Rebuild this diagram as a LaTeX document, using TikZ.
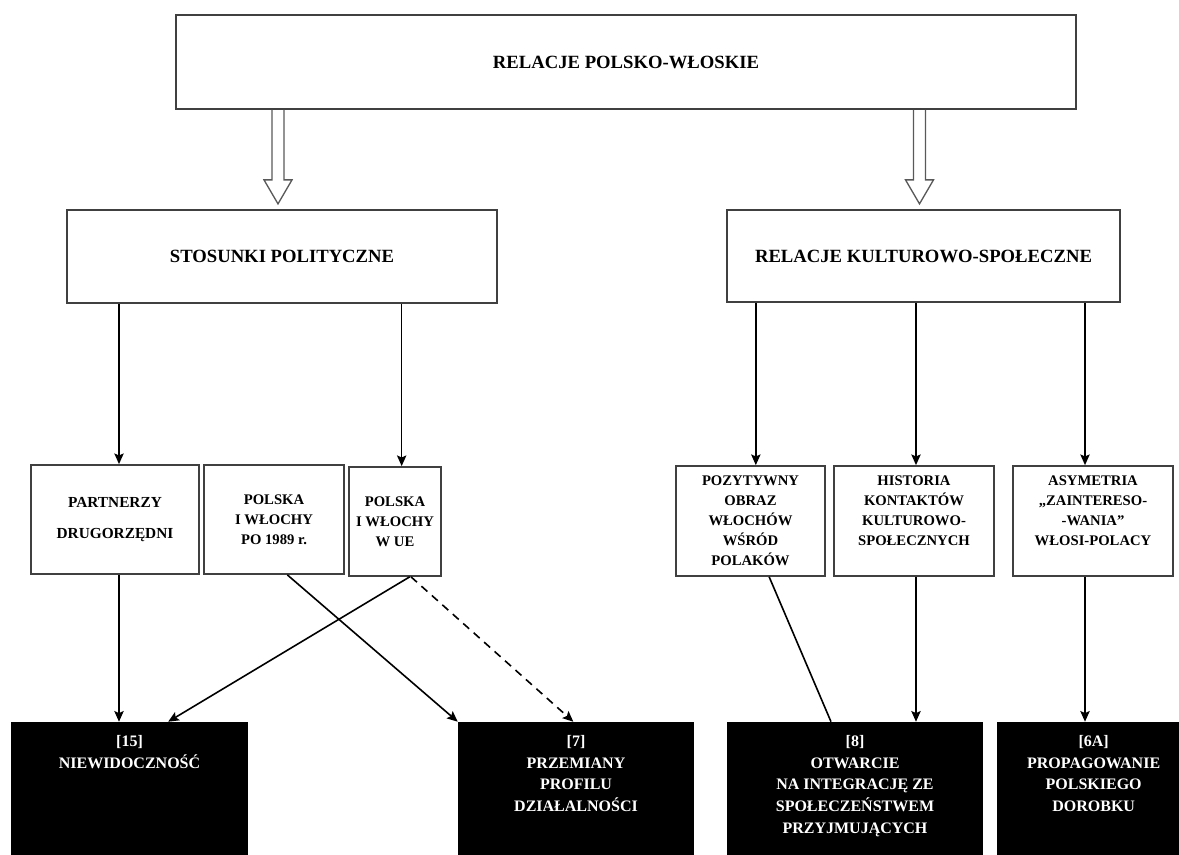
\documentclass[tikz,border=0pt]{standalone}
\usepackage{fontspec}
\setmainfont{Liberation Serif}
\usetikzlibrary{arrows.meta}

\tikzset{
  whitebox/.style={draw=black!75, line width=1.3pt, fill=white, align=center,
    inner sep=2pt, font=\bfseries\fontsize{11}{15}\selectfont},
  headbox/.style={whitebox, font=\bfseries\fontsize{14}{17}\selectfont},
  blackbox/.style={fill=black, draw=none},
  blacktext/.style={text=white, align=center, anchor=north, inner sep=0pt,
    font=\bfseries\fontsize{12}{16.3}\selectfont},
  arr/.style={line width=1.2pt, -{Stealth[length=8pt,width=7pt,inset=1.5pt]}},
  link/.style={line width=1.2pt},
  hollow/.style={draw=black!65, line width=1pt},
}

\begin{document}
\begin{tikzpicture}[x=0.75pt,y=-0.75pt]
\useasboundingbox (0,0) rectangle (1179,855);

% top level
\node[headbox, minimum width=675pt, minimum height=70.5pt] (top) at (626,62) {RELACJE POLSKO-WŁOSKIE};
\node[headbox, minimum width=322.5pt, minimum height=69.75pt] (polit) at (282,256.5) {STOSUNKI POLITYCZNE};
\node[headbox, minimum width=294.75pt, minimum height=69pt] (kult) at (923.5,256) {RELACJE KULTUROWO-SPOŁECZNE};

\draw[hollow] ([xshift=-7.5pt]polit.north |- top.south) -- ++(0,70) -- ++(-8,0) -- ++(14,24) -- ++(14,-24) -- ++(-8,0) -- ++(0,-70);
\draw[hollow] ([xshift=-7.5pt]kult.north |- top.south) -- ++(0,70) -- ++(-8,0) -- ++(14,24) -- ++(14,-24) -- ++(-8,0) -- ++(0,-70);

% middle row
\node[whitebox, minimum width=126pt, minimum height=81.75pt, font=\bfseries\fontsize{11.5}{15}\selectfont] (partn) at (115,519.5) {PARTNERZY\\[8pt]DRUGORZĘDNI};
\node[whitebox, minimum width=105pt, minimum height=81.75pt] (po89) at (274,519.5) {POLSKA\\I WŁOCHY\\PO 1989 r.};
\node[whitebox, minimum width=69pt, minimum height=81.75pt] (ue) at (395,521.5) {POLSKA\\I WŁOCHY\\W UE};
\node[whitebox, minimum width=111.75pt, minimum height=82.5pt] (pozyt) at (750.5,521) {POZYTYWNY\\OBRAZ\\WŁOCHÓW\\WŚRÓD\\POLAKÓW};
\node[whitebox, minimum width=120pt, minimum height=82.5pt] (hist) at (914,521) {HISTORIA\\KONTAKTÓW\\KULTUROWO-\\SPOŁECZNYCH\\\mbox{}};
\node[whitebox, minimum width=120pt, minimum height=82.5pt] (asym) at (1093,521) {ASYMETRIA\\„ZAINTERESO-\\-WANIA”\\WŁOSI-POLACY\\\mbox{}};

\draw[arr] ([xshift=3pt]partn.north |- polit.south) -- ([xshift=3pt]partn.north);
\draw[arr] ([xshift=5pt]ue.north |- polit.south) -- ([xshift=5pt]ue.north);
\draw[arr] ([xshift=4pt]pozyt.north |- kult.south) -- ([xshift=4pt]pozyt.north);
\draw[arr] ([xshift=1.5pt]hist.north |- kult.south) -- ([xshift=1.5pt]hist.north);
\draw[arr] ([xshift=-6pt]asym.north |- kult.south) -- ([xshift=-6pt]asym.north);

% bottom row
\node[blackbox, minimum width=177.75pt, minimum height=105pt] (b15) at (129.5,792) {};
\node[blackbox, minimum width=177pt, minimum height=105pt] (b7) at (576,792) {};
\node[blackbox, minimum width=192pt, minimum height=105pt] (b8) at (855,792) {};
\node[blackbox, minimum width=153pt, minimum height=105pt] (b6a) at (1099,792) {};

\node[blacktext] (t15) at ([yshift=-10pt]b15.north) {[15]\\NIEWIDOCZNOŚĆ};
\node[blacktext] (t7) at ([yshift=-10pt]b7.north) {[7]\\PRZEMIANY\\PROFILU\\DZIAŁALNOŚCI};
\node[blacktext] (t8) at ([yshift=-10pt]b8.north) {[8]\\OTWARCIE\\NA INTEGRACJĘ ZE\\SPOŁECZEŃSTWEM\\PRZYJMUJĄCYCH};
\node[blacktext] (t6a) at ([yshift=-10pt,xshift=-4pt]b6a.north) {[6A]\\PROPAGOWANIE\\POLSKIEGO\\DOROBKU};

\draw[arr] ([xshift=3pt]partn.south) -- ([xshift=3pt]partn.south |- b15.north);
\draw[arr] ([xshift=11pt]ue.south) -- ([xshift=29pt]b15.north);
\draw[arr] ([xshift=10pt]po89.south) -- (b7.north west);
\draw[arr, dash pattern=on 6pt off 4.5pt] ([xshift=12pt]ue.south) -- ([xshift=-2pt]b7.north);
\draw[link] ([xshift=14pt]pozyt.south) -- ([xshift=-18pt]b8.north);
\draw[arr] ([xshift=1.5pt]hist.south) -- ([xshift=1.5pt]hist.south |- b8.north);
\draw[arr] ([xshift=-6pt]asym.south) -- ([xshift=-6pt]asym.south |- b6a.north);
\end{tikzpicture}
\end{document}
